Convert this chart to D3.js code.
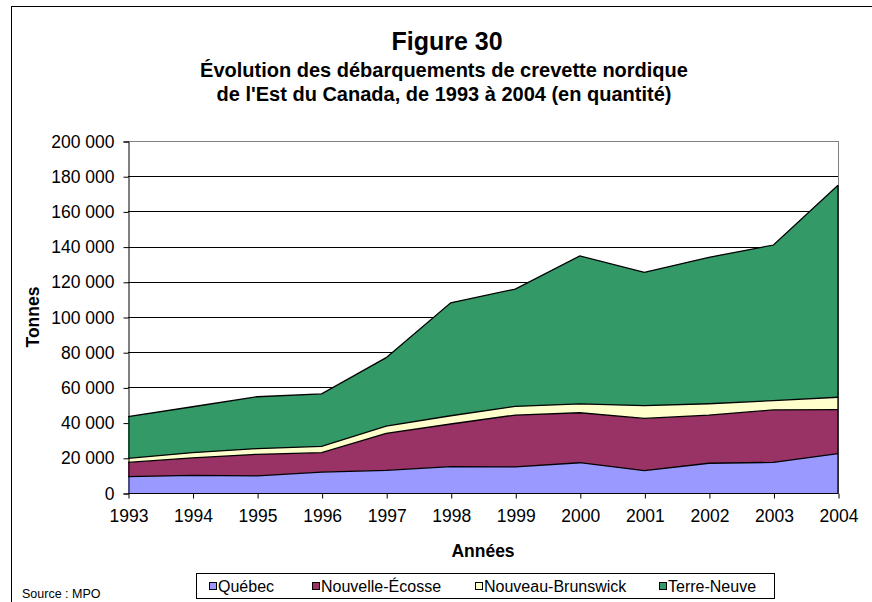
<!DOCTYPE html>
<html>
<head>
<meta charset="utf-8">
<script src="https://cdn.jsdelivr.net/npm/d3@7"></script>
<style>
  body { margin: 0; background: #fff; }
  svg { display: block; font-family: Arial, "Liberation Sans", sans-serif; }
</style>
</head>
<body>
<div id="chart"></div>
<script>
// Data (tonnes)
var years = [1993, 1994, 1995, 1996, 1997, 1998, 1999, 2000, 2001, 2002, 2003, 2004];
var quebec = [9300, 10000, 9700, 11900, 12900, 15000, 14800, 17200, 12700, 16900, 17400, 22400];
var nouvelleEcosse = [8100, 10000, 12300, 11000, 21000, 24200, 29500, 28400, 29700, 27400, 29800, 25000];
var nouveauBrunswick = [2300, 2900, 3200, 3600, 4100, 4700, 4900, 5000, 7200, 6400, 5300, 7000];
var terreNeuve = [23700, 26100, 29500, 29800, 38900, 64200, 66700, 84100, 75800, 83200, 88400, 120400];
var seriesNames = ["Québec", "Nouvelle-Écosse", "Nouveau-Brunswick", "Terre-Neuve"];
var colors = ["#9999ff", "#993366", "#ffffcc", "#339966"];
var yTicks = [0, 20000, 40000, 60000, 80000, 100000, 120000, 140000, 160000, 180000, 200000];

var W = 872, H = 602;
var plot = {left: 128, right: 838, top: 141, bottom: 493};
var tickFont = 17.5;

var svg = d3.select("#chart").append("svg")
    .attr("width", W)
    .attr("height", H);

// outer frame (right/bottom edges fall outside the picture)
svg.append("rect")
    .attr("x", 11.5).attr("y", 6.5)
    .attr("width", W + 10).attr("height", H + 10)
    .attr("fill", "none").attr("stroke", "#000").attr("stroke-width", 1);

// titles
svg.append("text").attr("x", 447).attr("y", 50)
    .attr("text-anchor", "middle").attr("font-size", 25).attr("font-weight", "bold")
    .text("Figure 30");
svg.append("text").attr("x", 444).attr("y", 77)
    .attr("text-anchor", "middle").attr("font-size", 20).attr("font-weight", "bold")
    .text("Évolution des débarquements de crevette nordique");
svg.append("text").attr("x", 444).attr("y", 101)
    .attr("text-anchor", "middle").attr("font-size", 20).attr("font-weight", "bold")
    .text("de l'Est du Canada, de 1993 à 2004 (en quantité)");

var x = d3.scaleLinear().domain([years[0], years[years.length - 1]]).range([plot.left, plot.right]);
var y = d3.scaleLinear().domain([0, 200000]).range([plot.bottom, plot.top]);

// gridlines
svg.append("g").selectAll("line").data(yTicks.slice(1)).join("line")
    .attr("x1", plot.left).attr("x2", plot.right)
    .attr("y1", function(d){ return Math.round(y(d)) + 0.5; })
    .attr("y2", function(d){ return Math.round(y(d)) + 0.5; })
    .attr("stroke", function(d){ return d === 200000 ? "#808080" : "#000"; })
    .attr("stroke-width", 1);
// right plot border
svg.append("line")
    .attr("x1", plot.right + 0.5).attr("x2", plot.right + 0.5)
    .attr("y1", plot.top).attr("y2", plot.bottom)
    .attr("stroke", "#808080");

// stacked areas
var table = years.map(function(yr, i){
    return {year: yr, "Québec": quebec[i], "Nouvelle-Écosse": nouvelleEcosse[i],
            "Nouveau-Brunswick": nouveauBrunswick[i], "Terre-Neuve": terreNeuve[i]};
});
var stack = d3.stack().keys(seriesNames)(table);

var area = d3.area()
    .x(function(d){ return x(d.data.year); })
    .y0(function(d){ return y(d[0]); })
    .y1(function(d){ return y(d[1]); });
var topLine = d3.line()
    .x(function(d){ return x(d.data.year); })
    .y(function(d){ return y(d[1]); });

svg.append("g").selectAll("path").data(stack).join("path")
    .attr("d", area)
    .attr("fill", function(d, i){ return colors[i]; });
svg.append("g").selectAll("path").data(stack).join("path")
    .attr("d", topLine)
    .attr("fill", "none").attr("stroke", "#000").attr("stroke-width", 1.3);
// right edge of the stack
svg.append("line")
    .attr("x1", plot.right).attr("x2", plot.right)
    .attr("y1", y(0)).attr("y2", y(stack[3][years.length - 1][1]))
    .attr("stroke", "#000").attr("stroke-width", 1.3);

// axes
var yAxis = d3.axisLeft(y).tickValues(yTicks).tickSize(5).tickPadding(9)
    .tickFormat(function(d){ return d3.format(",")(d).replace(/,/g, " "); });
var gy = svg.append("g").attr("transform", "translate(" + (plot.left + 0.5) + ",0.5)").call(yAxis);
var xAxis = d3.axisBottom(x).tickValues(years).tickSize(5).tickPadding(11).tickFormat(d3.format("d"));
var gx = svg.append("g").attr("transform", "translate(0.5," + (plot.bottom + 0.5) + ")").call(xAxis);
[gy, gx].forEach(function(g){
    g.select(".domain").attr("stroke", "#000");
    g.selectAll(".tick line").attr("stroke", "#000");
    g.selectAll(".tick text").attr("font-size", tickFont).attr("fill", "#000")
        .attr("font-family", "Arial, 'Liberation Sans', sans-serif");
});
gx.select(".domain").attr("d", "M" + plot.left + ",0H" + plot.right);

// axis titles
svg.append("text").attr("x", 483).attr("y", 557)
    .attr("text-anchor", "middle").attr("font-size", 17.5).attr("font-weight", "bold")
    .text("Années");
svg.append("text").attr("transform", "translate(33,317) rotate(-90)")
    .attr("text-anchor", "middle").attr("dy", "0.35em").attr("font-size", 17.5).attr("font-weight", "bold")
    .text("Tonnes");

// legend
var legend = svg.append("g");
legend.append("rect").attr("x", 196.5).attr("y", 573.5).attr("width", 578).attr("height", 25)
    .attr("fill", "#fff").attr("stroke", "#000");
var legendX = [218, 321, 484, 668];
seriesNames.forEach(function(name, i){
    legend.append("rect").attr("x", legendX[i] - 8.5).attr("y", 582.5).attr("width", 7).attr("height", 7)
        .attr("fill", colors[i]).attr("stroke", "#000");
    legend.append("text").attr("x", legendX[i]).attr("y", 592)
        .attr("font-size", 16).text(name);
});

svg.append("text").attr("x", 22).attr("y", 598).attr("font-size", 12.5).text("Source : MPO");
</script>
</body>
</html>
